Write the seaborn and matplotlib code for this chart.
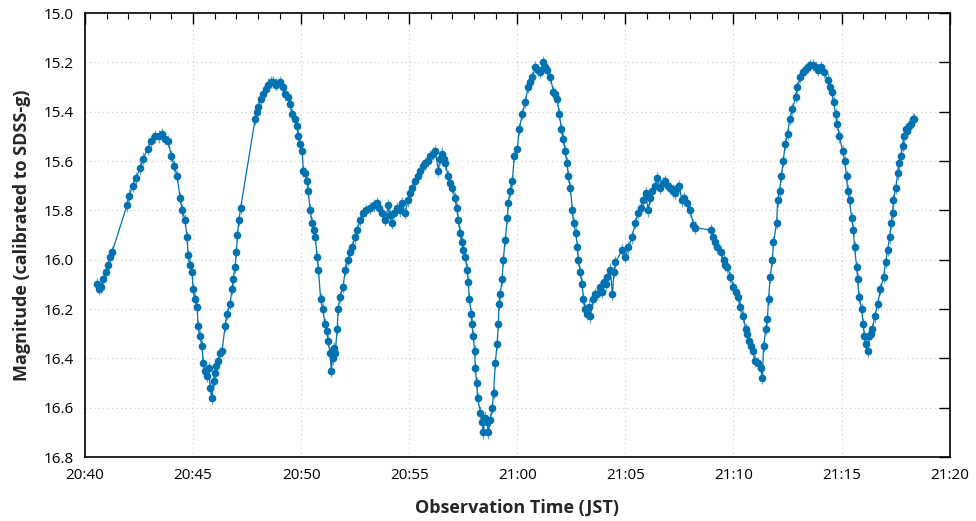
import numpy as np
import pandas as pd
import matplotlib
matplotlib.use("Agg")
import matplotlib.pyplot as plt
import matplotlib.dates as mdates
import seaborn as sns

# minutes after 20:40:00 JST
t_min = [
    0.55, 0.65, 0.75, 0.85, 0.95, 1.05, 1.15, 1.25, 1.94, 2.05, 2.2, 2.35, 2.55, 2.7, 2.9,
    3.05, 3.24, 3.4, 3.56, 3.7, 3.84, 4.0, 4.13, 4.26, 4.4, 4.5, 4.63, 4.72, 4.77, 4.85,
    4.95, 5.0, 5.1, 5.19, 5.23, 5.32, 5.42, 5.46, 5.55, 5.65, 5.72, 5.79, 5.88, 5.95, 6.0,
    6.08, 6.16, 6.25, 6.34, 6.48, 6.57, 6.71, 6.8, 6.85, 6.94, 7.0, 7.05, 7.12, 7.2,
    7.87, 7.95, 8.0, 8.12, 8.24, 8.35, 8.47, 8.6, 8.7, 8.85, 9.03, 9.15, 9.26, 9.4, 9.5,
    9.58, 9.7, 9.81, 9.86, 9.95, 10.05, 10.1, 10.2, 10.28, 10.32, 10.42, 10.5, 10.58, 10.65, 10.74,
    10.8, 10.9, 11.0, 11.1, 11.18, 11.25, 11.34, 11.39, 11.45, 11.52, 11.57, 11.67, 11.71, 11.8, 11.94,
    12.04, 12.18, 12.27, 12.36, 12.48, 12.6, 12.72, 12.87, 13.0, 13.2, 13.35, 13.5, 13.62, 13.75, 13.9,
    14.03, 14.1, 14.2, 14.3, 14.44, 14.55, 14.68, 14.8, 14.95, 15.05, 15.14, 15.28, 15.4, 15.5, 15.62,
    15.74, 15.85, 15.97, 16.1, 16.2, 16.35, 16.42, 16.5, 16.6, 16.67, 16.8, 16.9, 16.99, 17.13, 17.2,
    17.27, 17.36, 17.45, 17.5, 17.6, 17.68, 17.73, 17.78, 17.87, 17.9, 17.96, 18.02, 18.06, 18.12, 18.16,
    18.29, 18.38, 18.43, 18.5, 18.6, 18.66, 18.75, 18.84, 18.9, 18.98, 19.07, 19.12, 19.15, 19.2, 19.3,
    19.35, 19.44, 19.54, 19.58, 19.68, 19.77, 19.86, 20.0, 20.09, 20.23, 20.37, 20.5, 20.6, 20.7, 20.83,
    20.95, 21.06, 21.2, 21.3, 21.39, 21.53, 21.67, 21.76, 21.85, 21.94, 22.04, 22.13, 22.22, 22.3, 22.36,
    22.45, 22.55, 22.6, 22.7, 22.78, 22.82, 22.92, 23.0, 23.06, 23.15, 23.24, 23.3, 23.38, 23.5, 23.6,
    23.7, 23.84, 23.92, 24.0, 24.1, 24.17, 24.3, 24.4, 24.47, 24.54,
    24.86, 25.0, 25.14, 25.3, 25.46, 25.6, 25.72, 25.8, 25.93, 26.06, 26.15, 26.25, 26.37, 26.48, 26.6,
    26.72, 26.85, 26.95, 27.08, 27.2, 27.3, 27.4, 27.5, 27.6, 27.72, 27.87, 28.0, 28.15, 28.24,
    28.94, 29.07, 29.16, 29.26, 29.4, 29.54, 29.63, 29.72, 29.86, 30.0, 30.1, 30.2, 30.32, 30.46, 30.56,
    30.63, 30.7, 30.8, 30.88, 31.0, 31.15, 31.25, 31.34, 31.39, 31.5, 31.57, 31.62, 31.7, 31.8, 31.85,
    32.0, 32.04, 32.13, 32.22, 32.3, 32.4, 32.5, 32.6, 32.73, 32.87, 32.96, 33.1, 33.2, 33.33, 33.45,
    33.56, 33.68, 33.8, 33.92, 34.03, 34.17, 34.35, 34.45, 34.54, 34.63, 34.72, 34.8, 34.9, 35.05, 35.14,
    35.23, 35.28, 35.37, 35.46, 35.55, 35.6, 35.7, 35.74, 35.8, 35.93, 36.0, 36.05, 36.12, 36.2, 36.25,
    36.35, 36.43, 36.53, 36.67, 36.8, 36.94, 37.04, 37.13, 37.22, 37.3, 37.36, 37.4, 37.5, 37.6, 37.64,
    37.73, 37.82, 37.87, 37.96, 38.05, 38.1, 38.2, 38.3, 38.33,
]
mag = [
    16.10, 16.12, 16.11, 16.08, 16.05, 16.02, 15.99, 15.97, 15.78, 15.74, 15.70, 15.67, 15.63, 15.59, 15.55,
    15.52, 15.50, 15.50, 15.49, 15.51, 15.52, 15.58, 15.62, 15.66, 15.75, 15.80, 15.84, 15.91, 15.98, 16.02,
    16.05, 16.12, 16.16, 16.19, 16.27, 16.31, 16.35, 16.42, 16.45, 16.47, 16.44, 16.52, 16.56, 16.49, 16.46,
    16.43, 16.41, 16.38, 16.37, 16.27, 16.22, 16.18, 16.12, 16.08, 16.03, 15.97, 15.90, 15.84, 15.79,
    15.43, 15.40, 15.38, 15.35, 15.33, 15.31, 15.29, 15.28, 15.28, 15.29, 15.28, 15.30, 15.33, 15.34, 15.37,
    15.41, 15.43, 15.46, 15.50, 15.53, 15.56, 15.64, 15.65, 15.68, 15.72, 15.80, 15.85, 15.88, 15.91, 15.99,
    16.04, 16.16, 16.20, 16.26, 16.29, 16.33, 16.38, 16.45, 16.40, 16.36, 16.38, 16.28, 16.20, 16.15, 16.11,
    16.04, 16.00, 15.97, 15.95, 15.91, 15.88, 15.84, 15.81, 15.80, 15.79, 15.78, 15.77, 15.79, 15.81, 15.84,
    15.78, 15.82, 15.85, 15.81, 15.79, 15.80, 15.77, 15.81, 15.76, 15.73, 15.71, 15.68, 15.66, 15.64, 15.62,
    15.61, 15.60, 15.58, 15.57, 15.56, 15.64, 15.59, 15.57, 15.59, 15.61, 15.66, 15.69, 15.71, 15.75, 15.79,
    15.84, 15.89, 15.93, 15.96, 15.99, 16.04, 16.09, 16.16, 16.22, 16.26, 16.31, 16.37, 16.44, 16.50, 16.56,
    16.62, 16.66, 16.70, 16.64, 16.66, 16.70, 16.65, 16.60, 16.54, 16.42, 16.34, 16.26, 16.18, 16.14, 16.08,
    16.00, 15.92, 15.83, 15.77, 15.72, 15.68, 15.58, 15.55, 15.47, 15.41, 15.36, 15.30, 15.28, 15.26, 15.22,
    15.23, 15.24, 15.20, 15.22, 15.23, 15.26, 15.32, 15.33, 15.35, 15.41, 15.47, 15.51, 15.56, 15.61, 15.66,
    15.71, 15.80, 15.85, 15.89, 15.95, 16.00, 16.05, 16.10, 16.16, 16.20, 16.22, 16.19, 16.23, 16.16, 16.14,
    16.14, 16.11, 16.13, 16.09, 16.10, 16.07, 16.04, 16.14, 16.05, 16.01,
    15.96, 15.99, 15.95, 15.91, 15.85, 15.81, 15.79, 15.76, 15.73, 15.80, 15.75, 15.72, 15.70, 15.67, 15.71,
    15.69, 15.68, 15.70, 15.71, 15.72, 15.73, 15.71, 15.70, 15.76, 15.75, 15.77, 15.80, 15.86, 15.87,
    15.88, 15.91, 15.93, 15.95, 15.97, 16.00, 16.02, 16.03, 16.07, 16.11, 16.13, 16.15, 16.19, 16.23, 16.28,
    16.30, 16.33, 16.35, 16.37, 16.41, 16.42, 16.44, 16.48, 16.35, 16.28, 16.24, 16.16, 16.07, 16.00, 15.93,
    15.85, 15.76, 15.72, 15.66, 15.60, 15.53, 15.49, 15.43, 15.39, 15.34, 15.30, 15.26, 15.24, 15.23, 15.22,
    15.21, 15.21, 15.22, 15.23, 15.22, 15.24, 15.27, 15.30, 15.32, 15.36, 15.41, 15.45, 15.50, 15.56, 15.60,
    15.66, 15.72, 15.76, 15.83, 15.88, 15.95, 16.03, 16.08, 16.15, 16.20, 16.26, 16.31, 16.34, 16.37, 16.31,
    16.30, 16.28, 16.23, 16.18, 16.12, 16.07, 16.01, 15.96, 15.91, 15.85, 15.81, 15.76, 15.71, 15.65, 15.61,
    15.58, 15.54, 15.50, 15.47, 15.48, 15.46, 15.45, 15.43, 15.43,
]
mag_err = 0.025

start = pd.Timestamp("2020-01-01 20:40:00")
df = pd.DataFrame({
    "time": start + pd.to_timedelta(t_min, unit="min"),
    "mag": mag,
})

sns.set_style("white")
plt.rcParams["font.family"] = ["Open Sans", "DejaVu Sans"]

color = "#0072b2"
fig = plt.figure(figsize=(9.76, 5.21), dpi=100)
ax = fig.add_axes([0.0871, 0.1228, 0.8859, 0.8522])

ax.errorbar(df["time"], df["mag"], yerr=mag_err, fmt="none",
            ecolor=color, elinewidth=0.9, alpha=0.6, zorder=2)
sns.lineplot(data=df, x="time", y="mag", ax=ax, estimator=None, sort=False,
             color=color, linewidth=0.9, marker="o", markersize=5.5,
             markeredgewidth=0, markerfacecolor=color, zorder=3)

ax.set_xlim(start, start + pd.Timedelta(minutes=40))
ax.set_ylim(16.8, 15.0)
ax.set_yticks(np.arange(15.0, 16.81, 0.2))
ax.yaxis.set_major_formatter(plt.FormatStrFormatter("%.1f"))
ax.xaxis.set_major_locator(mdates.MinuteLocator(byminute=range(0, 60, 5)))
ax.xaxis.set_minor_locator(mdates.MinuteLocator())
ax.xaxis.set_major_formatter(mdates.DateFormatter("%H:%M"))

ax.grid(True, which="major", color="#c8c8c8", linestyle=(0, (1, 3)), linewidth=0.8)
ax.tick_params(which="both", direction="in", top=True, right=True, colors="black",
               labelsize=11, labelcolor="black")
ax.tick_params(which="major", length=8, width=1.0, pad=8)
ax.tick_params(which="minor", length=4, width=0.8)
for s in ax.spines.values():
    s.set_color("black")
    s.set_linewidth(1.2)

ax.set_xlabel("Observation Time (JST)", fontsize=13, fontweight="bold", labelpad=11)
ax.set_ylabel("Magnitude (calibrated to SDSS-g)", fontsize=13, fontweight="bold", labelpad=9)

fig.savefig("out.png", dpi=100)
